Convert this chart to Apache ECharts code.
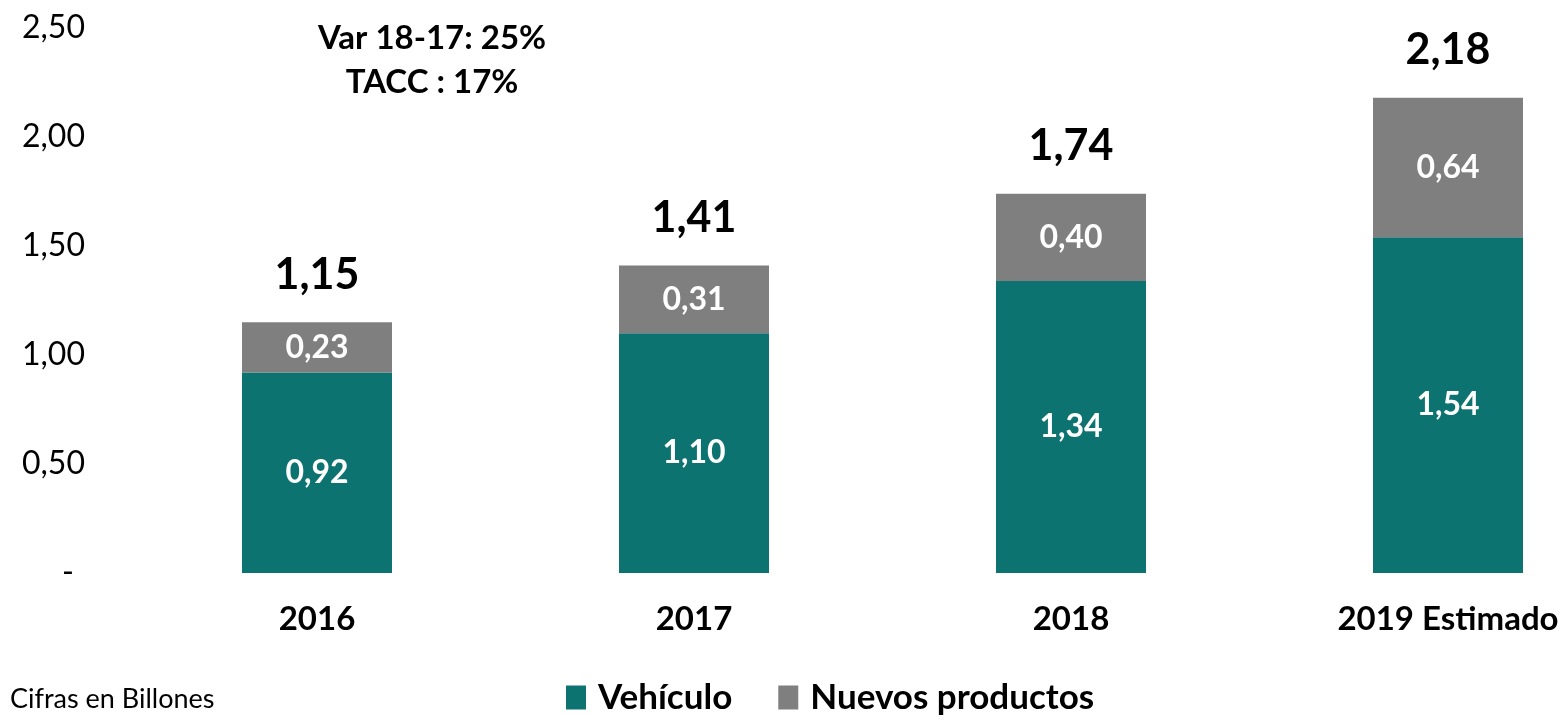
<!DOCTYPE html>
<html>
<head>
<meta charset="utf-8">
<script src="https://cdn.jsdelivr.net/npm/echarts@6/dist/echarts.min.js"></script>
<style>
  html, body { margin: 0; padding: 0; background: #fff; }
  #main { width: 1567px; height: 717px; }
</style>
</head>
<body>
<div id="main"></div>
<script>
// datos del grafico
const years = ['2016', '2017', '2018', '2019 Estimado'];
const vehiculo = [0.92, 1.10, 1.34, 1.54];
const nuevos = [0.23, 0.31, 0.40, 0.64];
const totales = [1.15, 1.41, 1.74, 2.18];
const notas = ['Var 18-17: 25%', 'TACC : 17%'];

const font = 'Lato, "Open Sans", sans-serif';
const fmt = v => v.toFixed(2).replace('.', ',');

const chart = echarts.init(document.getElementById('main'));

chart.setOption({
  backgroundColor: '#ffffff',
  animation: false,
  color: ['#0D7370', '#7F7F7F'],
  // eje sin boundaryGap: las barras quedan centradas en los ticks
  grid: { left: 317, right: 119, top: 28, bottom: 144 },
  legend: {
    top: 680,
    left: 566,
    padding: 0,
    itemWidth: 20,
    itemHeight: 24,
    itemGap: 46,
    icon: 'rect',
    textStyle: { fontFamily: font, fontSize: 35, fontWeight: 'bold', color: '#000', padding: [0, 0, 0, 7] },
    data: ['Vehículo', 'Nuevos productos']
  },
  graphic: [
    {
      type: 'text', left: 10, top: 686,
      style: { text: 'Cifras en Billones', font: '27px ' + font, fill: '#000' }
    },
    {
      type: 'text', x: 432, y: 16,
      style: { text: notas.join('\n'), font: 'bold 33px ' + font, fill: '#000', align: 'center', lineHeight: 44 }
    }
  ],
  xAxis: {
    type: 'category',
    boundaryGap: false,
    data: years,
    axisLine: { show: false },
    axisTick: { show: false },
    axisLabel: { margin: 30, fontFamily: font, fontSize: 33, fontWeight: 'bold', color: '#000' }
  },
  yAxis: {
    type: 'value',
    min: 0, max: 2.5, interval: 0.5,
    splitLine: { show: false },
    axisLine: { show: false },
    axisTick: { show: false },
    axisLabel: {
      align: 'left',
      margin: 295,
      fontFamily: font, fontSize: 32, color: '#000',
      formatter: v => v === 0 ? '{z|-}' : fmt(v),
      rich: { z: { fontFamily: font, fontSize: 32, color: '#000', padding: [0, 0, 0, 40] } }
    }
  },
  series: [
    {
      name: 'Vehículo',
      type: 'bar',
      stack: 'total',
      barWidth: 150,
      data: vehiculo,
      label: {
        show: true, position: 'inside', color: '#fff',
        fontFamily: font, fontSize: 32, fontWeight: 'bold',
        formatter: p => fmt(p.value)
      }
    },
    {
      name: 'Nuevos productos',
      type: 'bar',
      stack: 'total',
      barWidth: 150,
      data: nuevos,
      label: {
        show: true, position: 'inside', color: '#fff',
        fontFamily: font, fontSize: 32, fontWeight: 'bold',
        formatter: p => fmt(p.value)
      }
    },
    {
      name: 'Total',
      type: 'bar',
      stack: 'total',
      barWidth: 150,
      data: totales.map(() => 0),
      itemStyle: { color: 'transparent' },
      label: {
        show: true, position: 'top', distance: 26, color: '#000',
        fontFamily: font, fontSize: 43, fontWeight: 'bold',
        formatter: p => fmt(totales[p.dataIndex])
      }
    }
  ]
});
</script>
</body>
</html>
